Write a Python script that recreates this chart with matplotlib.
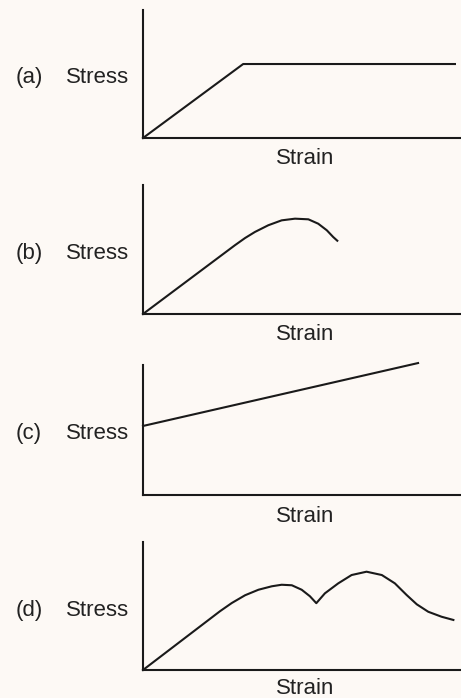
import matplotlib
matplotlib.use("Agg")
import matplotlib.pyplot as plt

plt.rcParams['font.family'] = ['Liberation Sans', 'DejaVu Sans']

BG = '#fdf9f5'
INK = '#1a1a1a'

panel_labels = ['(a)', '(b)', '(c)', '(d)']
y_label = 'Stress'
x_label = 'Strain'

# Curves (strain, stress) in arbitrary units: axis spans 0..10 on both scales
strain_a = [0, 3.15, 9.81]
stress_a = [0, 5.78, 5.78]

strain_b = [0, 2.89, 3.21, 3.52, 3.94, 4.36, 4.78, 5.20, 5.51, 5.78, 5.98, 6.11]
stress_b = [0, 5.33, 5.89, 6.36, 6.88, 7.26, 7.39, 7.34, 7.00, 6.49, 5.97, 5.68]

strain_c = [0, 8.65]
stress_c = [5.31, 10.15]

strain_d = [0, 2.42, 2.79, 3.21, 3.63, 4.05, 4.36, 4.68, 4.99, 5.25, 5.45,
            5.72, 6.14, 6.56, 7.03, 7.51, 7.92, 8.29, 8.61, 8.97, 9.39, 9.76]
stress_d = [0, 4.59, 5.23, 5.84, 6.27, 6.54, 6.66, 6.62, 6.27, 5.76, 5.22,
            5.99, 6.77, 7.42, 7.68, 7.42, 6.77, 5.86, 5.13, 4.55, 4.16, 3.91]

curves = [(strain_a, stress_a), (strain_b, stress_b),
          (strain_c, stress_c), (strain_d, stress_d)]

W, H = 461, 698
fig = plt.figure(figsize=(W / 100, H / 100), dpi=100, facecolor=BG)

# pixel layout: (top, bottom) of each axes, and baselines of texts
ax_tops = [10, 185, 365, 542]
ax_bots = [138, 314, 495, 670]
stress_base = [83, 259, 439, 616]
strain_base = [164, 340, 522, 694]
ax_left, ax_right = 143, 461

def fx(px):
    return px / W

def fy(py):
    return 1 - py / H

for i, (xs, ys) in enumerate(curves):
    ax = fig.add_axes([fx(ax_left), fy(ax_bots[i]),
                       (ax_right - ax_left) / W, (ax_bots[i] - ax_tops[i]) / H])
    ax.set_facecolor('none')
    ax.set_xlim(0, 10)
    ax.set_ylim(0, 10)
    for s in ['top', 'right']:
        ax.spines[s].set_visible(False)
    for s in ['left', 'bottom']:
        ax.spines[s].set_linewidth(1.5)
        ax.spines[s].set_color(INK)
    ax.set_xticks([])
    ax.set_yticks([])
    ax.plot(xs, ys, color=INK, lw=1.5, clip_on=False, solid_joinstyle='round')

    fig.text(fx(98), fy(stress_base[i]), y_label, ha='center', va='baseline',
             fontsize=16, color='#222222')
    fig.text(fx(29), fy(stress_base[i]), panel_labels[i], ha='center', va='baseline',
             fontsize=16, color='#222222')
    fig.text(fx(305), fy(strain_base[i]), x_label, ha='center', va='baseline',
             fontsize=16, color='#222222')

fig.savefig('out.png', dpi=100, facecolor=BG)
